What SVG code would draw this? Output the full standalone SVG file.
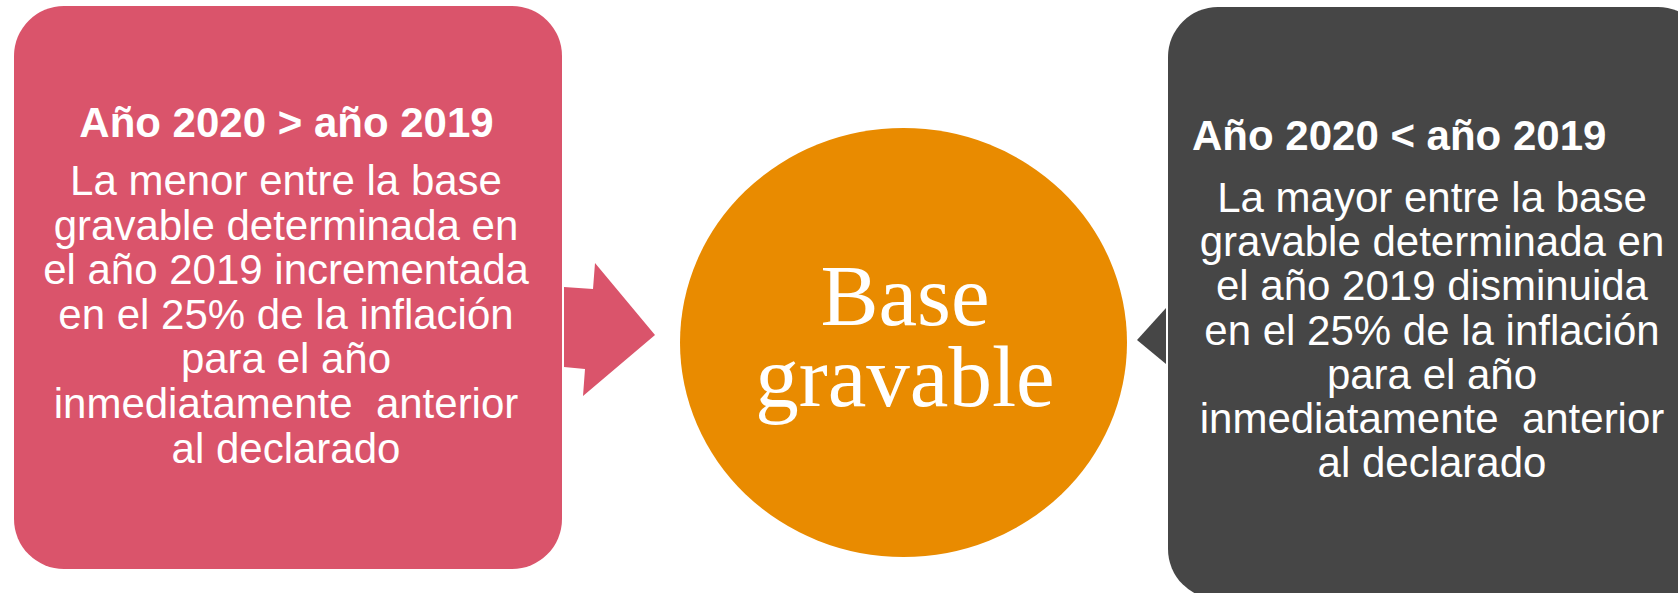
<svg xmlns="http://www.w3.org/2000/svg" width="1678" height="593" viewBox="0 0 1678 593">
<style>
.head{font-family:"Liberation Sans",Arial,sans-serif;font-weight:bold;font-size:42px;fill:#ffffff}
.body{font-family:"Liberation Sans",Arial,sans-serif;font-size:42px;fill:#ffffff;text-anchor:middle}
.center{font-family:"Liberation Serif","Times New Roman",serif;font-size:87px;fill:#ffffff;text-anchor:middle}
</style>
<rect width="1678" height="593" fill="#ffffff"/>
<g id="connectors">
<polygon points="564,287 593,289 595,263 655,335 583,396 585,369 564,367" fill="#DA546B"/>
<polygon points="1137,340 1166,308 1166,364" fill="#464646"/>
</g>
<g id="node-left">
<rect x="14" y="6" width="548" height="563" rx="50" ry="50" fill="#DA546B"/>
<text class="head" x="286.5" y="137" text-anchor="middle">Año 2020 &gt; año 2019</text>
<text class="body" x="286" y="195">La menor entre la base</text>
<text class="body" x="286" y="239.6">gravable determinada en</text>
<text class="body" x="286" y="284.2">el año 2019 incrementada</text>
<text class="body" x="286" y="328.8">en el 25% de la inflación</text>
<text class="body" x="286" y="373.4">para el año</text>
<text class="body" x="286" y="418" xml:space="preserve">inmediatamente  anterior</text>
<text class="body" x="286" y="462.6">al declarado</text>
</g>
<g id="node-center">
<ellipse cx="903.5" cy="342.5" rx="223.5" ry="214.5" fill="#E98B00"/>
<text class="center" x="905" y="325">Base</text>
<text class="center" x="905" y="406">gravable</text>
</g>
<g id="node-right">
<rect x="1168" y="7" width="540" height="592" rx="50" ry="50" fill="#464646"/>
<text class="head" x="1192" y="150">Año 2020 &lt; año 2019</text>
<text class="body" x="1432" y="212">La mayor entre la base</text>
<text class="body" x="1432" y="256">gravable determinada en</text>
<text class="body" x="1432" y="300">el año 2019 disminuida</text>
<text class="body" x="1432" y="345">en el 25% de la inflación</text>
<text class="body" x="1432" y="389">para el año</text>
<text class="body" x="1432" y="433" xml:space="preserve">inmediatamente  anterior</text>
<text class="body" x="1432" y="477">al declarado</text>
</g>
</svg>
